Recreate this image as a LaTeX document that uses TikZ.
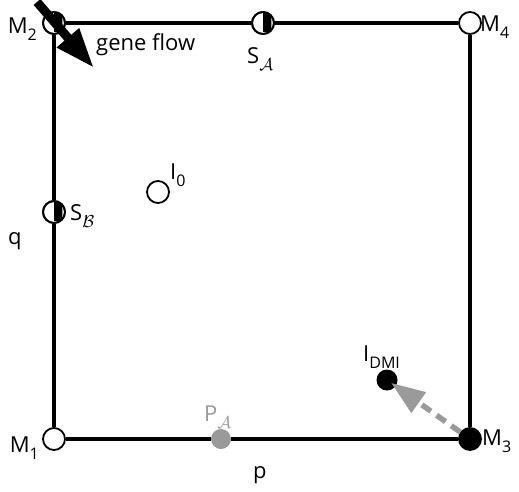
\documentclass[tikz,border=0pt]{standalone}
\usepackage{fontspec}
\setmainfont{Open Sans}
\usetikzlibrary{arrows.meta}
\definecolor{lgray}{HTML}{9A9A9A}
\newcommand\subs[1]{\raisebox{-0.34em}{\fontsize{16}{16}\selectfont #1}}
\newcommand\subc[1]{\raisebox{-0.34em}{\fontsize{18}{18}\selectfont$\mathcal{#1}$}}
\begin{document}
\begin{tikzpicture}[x=1pt,y=-1pt,
  lab/.style={inner sep=0pt,font=\fontsize{22}{22}\selectfont},
  pt/.style={circle,draw=black,line width=1.8pt,fill=white,minimum size=22pt,inner sep=0pt},
  ptblack/.style={pt,fill=black},
  ptgray/.style={circle,fill=lgray,minimum size=20pt,inner sep=0pt},
  ptsmall/.style={circle,fill=black,minimum size=21pt,inner sep=0pt},
  edge/.style={line width=3.6pt},
  flow/.style={line width=9pt,-{Triangle[length=40pt,width=27pt]}},
  flowgray/.style={lgray,line width=5.5pt,dash pattern=on 11pt off 7pt,-{Triangle[length=34pt,width=24pt]}}]
\useasboundingbox (0,0) rectangle (519,491);
% points
\node[pt] (M1) at (54,439) {};
\node[pt] (M2) at (54,23) {};
\node[ptblack] (M3) at (470,439) {};
\node[pt] (M4) at (470,23) {};
\node[pt] (SA) at (263,23) {};
\node[pt] (SB) at (54,212) {};
\node[pt] (I0) at (158,192) {};
\node[ptgray] (PA) at (221,439) {};
\node[ptsmall] (ID) at (387,380) {};
% edges
\draw[edge] (M1) -- (SB) -- (M2) -- (SA) -- (M4) -- (M3) -- (PA) -- (M1);
% half fills
\foreach \n in {M2,SA,SB}{
  \begin{scope}
    \clip (\n.north) rectangle (\n.south east);
    \fill[black] (\n.center) circle[radius=11pt];
  \end{scope}
  \draw[line width=1.8pt] (\n.center) circle[radius=11pt];
}
% arrows
\coordinate (GFtail) at (37,2);
\coordinate (GFtip) at (94,68);
\draw[flow] (GFtail) -- (GFtip);
\draw[flowgray,shorten <=12pt,shorten >=5pt] (M3.center) -- (ID.center);
% labels
\node[lab,anchor=base east] (LM2) at (37,33) {M\subs{2}};
\node[lab,anchor=base east] (LM1) at (39,452) {M\subs{1}};
\node[lab,anchor=base west] (LM3) at (482,445) {M\subs{3}};
\node[lab,anchor=base west] (LM4) at (480,31) {M\subs{4}};
\node[lab,anchor=base west] (LGF) at (96,50) {gene flow};
\node[lab,anchor=base west] (LSA) at (247,63) {S\subc{A}};
\node[lab,anchor=base west] (LSB) at (70,220) {S\subc{B}};
\node[lab,anchor=base west] (LI0) at (170,179) {I\subs{0}};
\node[lab,anchor=base west,text=lgray] (LPA) at (204,421) {P\subc{A}};
\node[lab,anchor=base west] (Lp) at (253,478) {p};
\node[lab,anchor=base west] (Lq) at (8,244) {q};
\node[lab,anchor=base west] (LID) at (363,361) {I\subs{DMI}};
\end{tikzpicture}
\end{document}
